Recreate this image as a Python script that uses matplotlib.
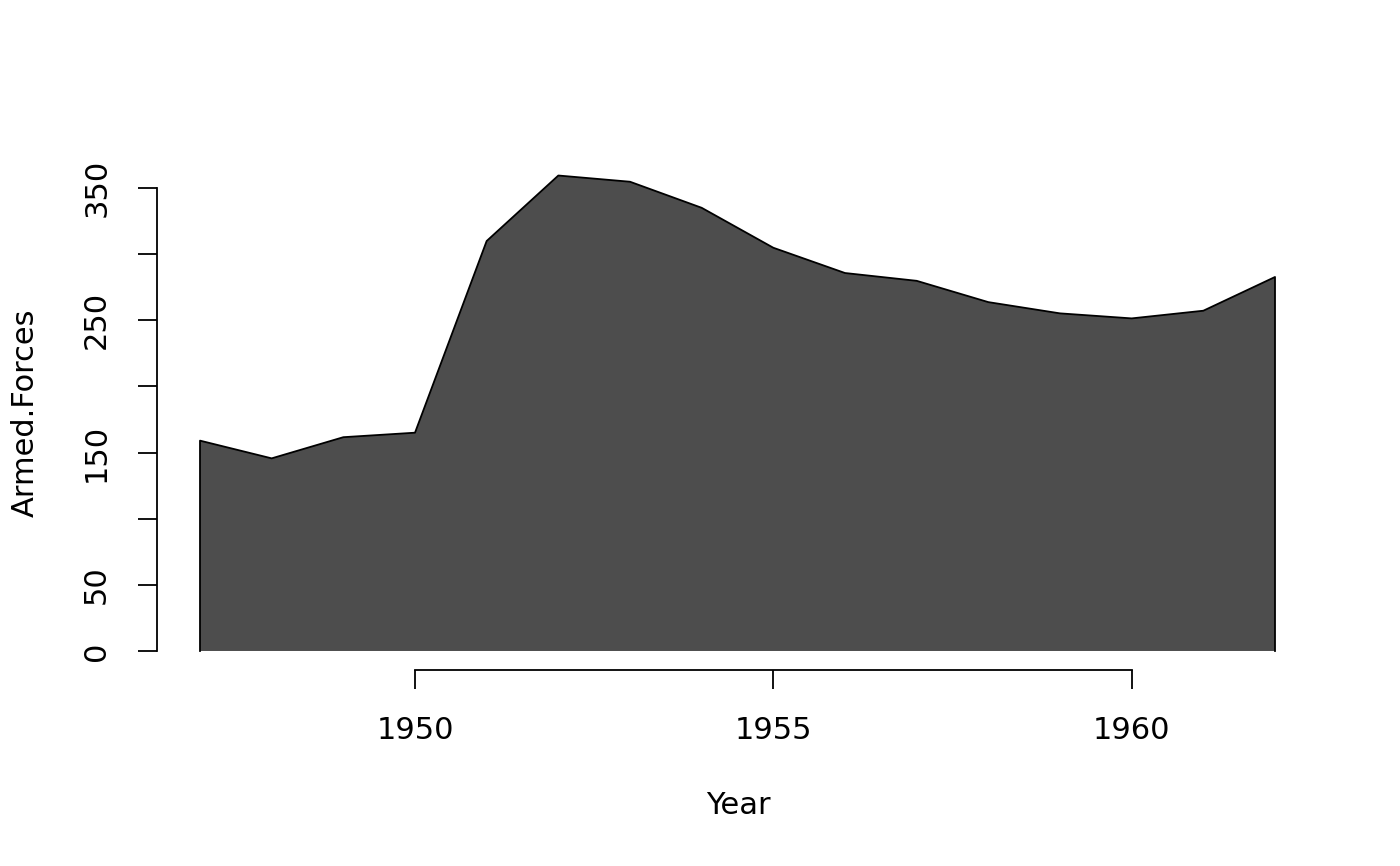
import numpy as np
import matplotlib.pyplot as plt

# Longley data: Armed.Forces by Year
years = np.arange(1947, 1963)
armed_forces = [159.0, 145.6, 161.6, 165.0, 309.9, 359.4, 354.7, 335.0,
                304.8, 285.7, 279.8, 263.7, 255.2, 251.4, 257.2, 282.7]

x_ticks = [1950, 1955, 1960]
y_ticks = [0, 50, 100, 150, 200, 250, 300, 350]
y_tick_labels = ['0', '50', '', '150', '', '250', '', '350']

fig = plt.figure(figsize=(14, 8.66), dpi=100)
ax = fig.add_axes([157 / 1400, 1 - 670 / 866, (1318 - 157) / 1400, (670 - 156.5) / 866])

ax.fill_between(years, 0, armed_forces, facecolor='#4d4d4d', edgecolor='none')
ax.plot(np.r_[years[0], years, years[-1]], np.r_[0, armed_forces, 0],
        color='black', lw=1.3)

# R style axis ranges (4% padding)
xr = years[-1] - years[0]
ax.set_xlim(years[0] - 0.04 * xr, years[-1] + 0.04 * xr)
ymax = max(armed_forces)
ax.set_ylim(-0.04 * ymax, ymax * 1.04)

for s in ['top', 'right']:
    ax.spines[s].set_visible(False)
ax.spines['left'].set_bounds(0, 350)
ax.spines['bottom'].set_bounds(1950, 1960)
ax.spines['left'].set_linewidth(1.3)
ax.spines['bottom'].set_linewidth(1.3)

ax.set_xticks(x_ticks)
ax.set_yticks(y_ticks)
ax.set_yticklabels(y_tick_labels, rotation=90, va='center')
ax.tick_params(axis='both', direction='out', length=14, width=1.3,
               labelsize=22, pad=19)

fig.text(738 / 1400, 1 - 805 / 866, 'Year', fontsize=22, ha='center', va='center')
fig.text(25 / 1400, 1 - 413 / 866, 'Armed.Forces', fontsize=22, ha='center',
         va='center', rotation=90)

fig.savefig('out.png', dpi=100)
